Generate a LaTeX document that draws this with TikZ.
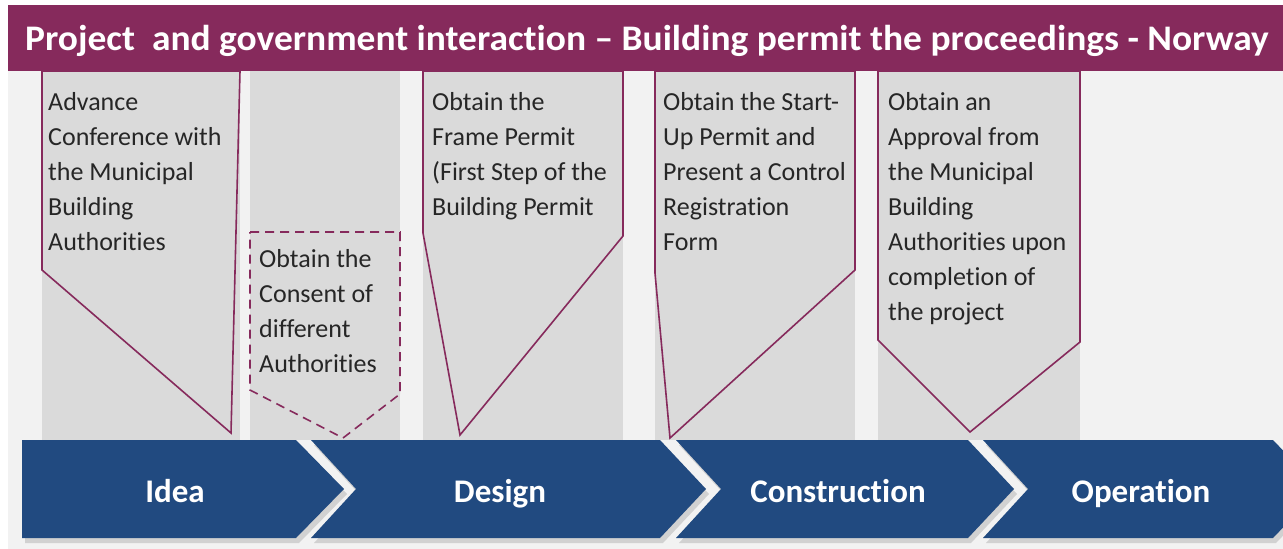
\documentclass[tikz,border=0pt]{standalone}
\usepackage{fontspec}
\setmainfont{Carlito}[Ligatures={TeX,NoCommon}]
\usepackage{graphicx}
\usepackage{tikz}
\usetikzlibrary{calc}
\usetikzlibrary{positioning}
\definecolor{maroon}{RGB}{134,42,92}
\definecolor{navy}{RGB}{33,74,128}
\definecolor{panel}{RGB}{218,218,218}
\definecolor{backgr}{RGB}{242,242,242}
\definecolor{ink}{RGB}{38,38,38}

\tikzset{
  callout/.style={draw=maroon,line width=1.6pt,fill=panel,line join=miter},
  note/.style={anchor=north west,inner sep=0pt,align=left,text=ink,font=\fontsize{26}{35}\selectfont},
  phase label/.style={anchor=base,text=white,font=\fontsize{33}{38}\selectfont\bfseries},
}

\begin{document}
\begin{tikzpicture}[x=1pt,y=-1pt]
\useasboundingbox (0,0) rectangle (1283,549);
	\fill[white] (0,0) rectangle (1283,549);
	\fill[backgr] (8,5) rectangle (1283,549);

	% title bar
	\fill[maroon] (8,5) rectangle (1283,71);
	\node[anchor=base west,inner sep=0pt,text=white,font=\fontsize{36}{40}\selectfont\bfseries] (title) at (25,50) {\scalebox{1.04}[1]{Project\ \ and government interaction – Building permit the proceedings - Norway}};

	% grey columns behind the callouts
	\foreach \xa/\xb in {42/240,250/400,423/623,655/855,878/1080}
		\fill[panel] (\xa,71) rectangle (\xb,440);

	% callouts
	\draw[callout] (42,71) -- (240,71) -- (231,433) -- (42,270) -- cycle;
	\draw[callout,dash pattern=on 9pt off 6pt] (250,232) -- (400,232) -- (400,394) -- (343,438) -- (250,390) -- cycle;
	\draw[callout] (423,71) -- (623,71) -- (623,236) -- (460,435) -- (423,233) -- cycle;
	\draw[callout] (655,71) -- (855,71) -- (855,270) -- (670,438) -- (655,273) -- cycle;
	\draw[callout] (878,71) -- (1080,71) -- (1080,342) -- (970,432) -- (878,340) -- cycle;

	\node[note] (advance) at (48,86) {\strut Advance\\Conference with\\the Municipal\\Building\\Authorities};
	\node[note] (consent) at (259,243) {\strut Obtain the\\Consent of\\different\\Authorities};
	\node[note] (frame) at (432,86) {\strut Obtain the\\Frame Permit\\(First Step of the\\Building Permit};
	\node[note] (startup) at (663,86) {\strut Obtain the Start-\\Up Permit and\\Present a Control\\Registration\\Form};
	\node[note] (approval) at (888,86) {\strut Obtain an\\Approval from\\the Municipal\\Building\\Authorities upon\\completion of\\the project};

	% phase chevrons, shadow first
	\foreach \col/\dx/\dy in {black!18/3/5,navy/0/0}{
	\begin{scope}[shift={(\dx,\dy)}]
		\fill[\col] (22,440) -- (296,440) -- (344,489) -- (296,538) -- (22,538) -- cycle;
		\fill[\col] (311,440) -- (660,440) -- (706,489) -- (660,538) -- (311,538) -- (356,489) -- cycle;
		\fill[\col] (676,440) -- (968,440) -- (1014,489) -- (968,538) -- (676,538) -- (721,489) -- cycle;
		\fill[\col] (983,440) -- (1273,440) -- (1320,489) -- (1273,538) -- (983,538) -- (1028,489) -- cycle;
	\end{scope}
	}

	\node[phase label] (idea) at (175,502) {Idea};
	\node[phase label] (design) at (500,502) {Design};
	\node[phase label] (construction) at (838,502) {Construction};
	\node[phase label] (operation) at (1141,502) {Operation};

\end{tikzpicture}
\end{document}
